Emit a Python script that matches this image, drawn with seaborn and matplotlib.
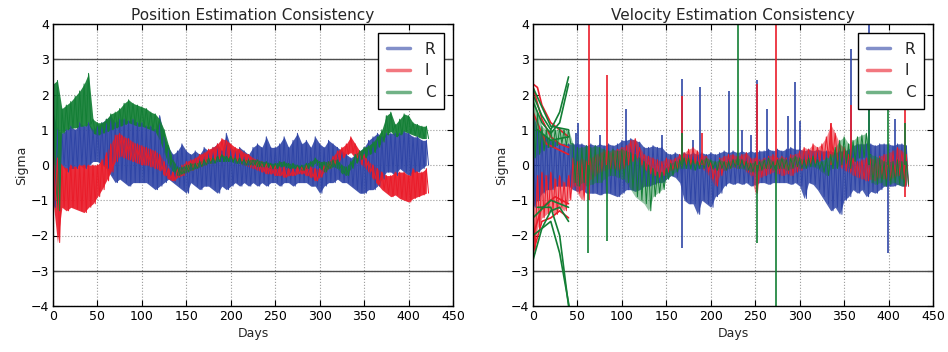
import numpy as np
import pandas as pd
import matplotlib
matplotlib.use("Agg")
import matplotlib.pyplot as plt
from matplotlib.lines import Line2D
import seaborn as sns

# ---------------- data ----------------
days = list(range(0, 421, 5))  # sample days (85)

# Position estimation consistency: upper / lower envelope of each component
pos_R_hi = [1.5, 1.0, 0.9, 1.0, 1.1, 1.0, 1.2, 1.1, 1.2, 1.0,
            1.1, 1.2, 1.3, 1.4, 1.2, 1.3, 1.3, 1.25, 1.3, 1.2,
            1.2, 1.1, 1.1, 1.0, 1.4, 0.8, 0.5, 0.3, 0.4, 0.6,
            0.4, 0.3, 0.4, 0.3, 0.5, 0.4, 0.5, 0.6, 0.4, 0.9,
            0.5, 0.4, 0.5, 0.4, 0.3, 0.5, 0.6, 0.5, 0.8, 0.5,
            0.5, 0.6, 0.8, 0.5, 0.7, 0.9, 0.6, 0.7, 0.5, 0.8,
            0.6, 0.5, 0.7, 0.6, 0.5, 0.4, 0.3, 0.2, 0.3, 0.4,
            0.5, 0.7, 0.8, 0.9, 0.8, 0.9, 0.9, 0.9, 0.9, 0.95,
            0.9, 0.8, 0.8, 0.7, 0.7]
pos_R_lo = [-1.2, -0.6, 0.0, -0.2, -0.1, -0.1, 0.0, -0.1, 0.0, 0.1,
            0.1, 0.0, -0.1, -0.3, -0.5, -0.4, -0.5, -0.6, -0.5, -0.5,
            -0.5, -0.5, -0.6, -0.7, -0.6, -0.5, -0.4, -0.5, -0.6, -0.7,
            -0.8, -0.5, -0.6, -0.7, -0.6, -0.6, -0.7, -0.8, -0.6, -0.7,
            -0.6, -0.5, -0.6, -0.5, -0.6, -0.5, -0.6, -0.5, -0.6, -0.5,
            -0.5, -0.6, -0.5, -0.5, -0.6, -0.5, -0.5, -0.5, -0.6, -0.6,
            -0.8, -0.6, -0.5, -0.5, -0.4, -0.5, -0.5, -0.6, -0.7, -0.8,
            -0.8, -0.7, -0.7, -0.6, -0.4, -0.2, -0.2, -0.3, -0.1, -0.2,
            -0.3, -0.2, -0.2, -0.1, 0.0]
pos_I_hi = [1.0, 0.2, 0.0, -0.1, 0.0, -0.05, 0.0, 0.0, 0.0, 0.0,
            0.0, 0.15, 0.35, 0.6, 0.85, 0.9, 0.8, 0.75, 0.65, 0.6,
            0.55, 0.5, 0.45, 0.4, 0.3, 0.1, -0.1, -0.2, -0.1, 0.0,
            0.1, 0.15, 0.2, 0.3, 0.35, 0.45, 0.5, 0.6, 0.75, 0.7,
            0.6, 0.5, 0.45, 0.35, 0.3, 0.2, 0.15, 0.1, 0.05, 0.0,
            0.0, -0.05, -0.05, -0.1, -0.1, -0.05, -0.05, 0.0, -0.05, -0.1,
            -0.1, 0.0, 0.1, 0.25, 0.4, 0.5, 0.6, 0.8, 0.6, 0.4,
            0.3, 0.1, 0.0, -0.1, -0.2, -0.3, -0.3, -0.2, -0.2, -0.2,
            -0.3, -0.1, -0.2, -0.2, -0.1]
pos_I_lo = [-1.0, -2.2, -1.2, -1.3, -1.2, -1.25, -1.3, -1.35, -1.2, -1.1,
            -0.9, -0.7, -0.45, -0.2, 0.1, 0.25, 0.2, 0.15, 0.1, 0.05,
            0.0, 0.0, -0.05, -0.1, -0.15, -0.3, -0.4, -0.45, -0.35, -0.3,
            -0.2, -0.15, -0.1, -0.05, 0.0, 0.05, 0.1, 0.15, 0.25, 0.2,
            0.15, 0.1, 0.05, 0.0, -0.05, -0.1, -0.15, -0.2, -0.25, -0.25,
            -0.3, -0.3, -0.35, -0.3, -0.3, -0.25, -0.25, -0.3, -0.35, -0.45,
            -0.35, -0.2, -0.1, 0.0, 0.1, 0.2, 0.3, 0.35, 0.2, 0.05,
            -0.05, -0.2, -0.4, -0.55, -0.7, -0.8, -0.9, -0.85, -0.95, -1.0,
            -1.05, -0.95, -0.9, -0.85, -0.8]
pos_C_hi = [2.3, 2.4, 1.6, 1.7, 1.8, 1.95, 2.1, 2.3, 2.6, 1.3,
            1.2, 1.2, 1.3, 1.45, 1.5, 1.6, 1.75, 1.85, 1.75, 1.7,
            1.65, 1.6, 1.5, 1.45, 1.3, 1.0, 0.55, 0.15, -0.05, -0.05,
            0.0, 0.05, 0.05, 0.1, 0.15, 0.2, 0.2, 0.25, 0.3, 0.25,
            0.25, 0.2, 0.2, 0.15, 0.15, 0.15, 0.15, 0.1, 0.1, 0.05,
            0.05, 0.1, 0.1, 0.05, 0.05, 0.0, 0.0, 0.05, 0.1, 0.2,
            0.1, 0.1, 0.1, 0.15, 0.15, 0.0, -0.05, 0.1, 0.3, 0.4,
            0.5, 0.55, 0.65, 0.8, 1.0, 1.4, 1.5, 1.15, 1.3, 1.45,
            1.4, 1.2, 1.15, 1.1, 1.1]
pos_C_lo = [0.0, -1.3, 0.9, 1.0, 1.05, 1.05, 1.1, 1.1, 1.15, 0.9,
            0.85, 0.9, 0.95, 1.0, 1.05, 1.1, 1.15, 1.2, 1.15, 1.1,
            1.1, 1.05, 1.0, 0.95, 0.7, 0.35, 0.0, -0.2, -0.3, -0.25,
            -0.2, -0.15, -0.1, -0.05, 0.0, 0.05, 0.05, 0.1, 0.1, 0.1,
            0.1, 0.05, 0.05, 0.0, 0.0, 0.0, -0.05, -0.05, -0.05, -0.1,
            -0.1, -0.05, -0.05, -0.1, -0.1, -0.1, -0.15, -0.1, -0.05, 0.05,
            -0.1, -0.2, -0.1, -0.05, -0.1, -0.25, -0.3, -0.1, 0.05, 0.15,
            0.2, 0.3, 0.35, 0.5, 0.65, 0.85, 0.95, 0.8, 0.85, 0.95,
            0.9, 0.85, 0.8, 0.75, 0.75]

# Velocity estimation consistency: envelopes
vel_R_hi = [1.5, 1.0, 0.9, 0.8, 0.7, 0.7, 0.6, 0.6, 0.6, 0.6,
            0.6, 0.6, 0.55, 0.6, 0.55, 0.6, 0.55, 0.6, 0.55, 0.6,
            0.7, 0.7, 0.75, 0.7, 0.65, 0.5, 0.5, 0.55, 0.5, 0.5,
            0.35, 0.3, 0.35, 0.3, 0.35, 0.3, 0.35, 0.3, 0.35, 0.3,
            0.35, 0.3, 0.35, 0.4, 0.35, 0.4, 0.35, 0.4, 0.35, 0.4,
            0.35, 0.4, 0.4, 0.45, 0.4, 0.45, 0.4, 0.45, 0.5, 0.45,
            0.45, 0.4, 0.45, 0.4, 0.45, 0.4, 0.4, 0.4, 0.35, 0.4,
            0.4, 0.45, 0.55, 0.6, 0.6, 0.6, 0.6, 0.55, 0.6, 0.6,
            0.6, 0.55, 0.6, 0.6, 0.55]
vel_R_lo = [-1.2, -1.0, -0.8, -0.7, -0.7, -0.6, -0.6, -0.6, -0.6, -0.7,
            -0.75, -0.7, -0.8, -0.8, -0.8, -0.85, -0.8, -0.8, -0.85, -0.9,
            -0.8, -0.7, -0.7, -0.75, -0.7, -0.6, -0.6, -0.55, -0.5, -0.5,
            -0.4, -0.3, -0.35, -0.5, -1.0, -1.1, -1.1, -1.4, -1.0, -1.1,
            -1.2, -0.9, -0.8, -0.6, -0.5, -0.55, -0.5, -0.55, -0.5, -0.6,
            -0.55, -0.5, -0.5, -0.55, -0.5, -0.5, -0.5, -0.5, -0.55, -0.5,
            -0.6, -0.95, -0.5, -0.55, -0.7, -0.9, -1.1, -1.3, -1.2, -1.4,
            -1.0, -0.9, -0.7, -0.8, -0.7, -0.9, -0.75, -0.8, -0.7, -0.6,
            -0.6, -0.6, -0.55, -0.6, -0.6]
vel_I_hi = [-1.0, -0.3, -0.2, -0.3, -0.2, -0.4, -0.3, -0.5, -0.3, 0.2,
            0.1, 0.2, 0.1, 0.2, 0.3, 0.35, 0.4, 0.35, 0.4, 0.45,
            0.5, 0.55, 0.7, 0.75, 0.5, 0.3, 0.25, 0.2, 0.15, 0.1,
            0.2, 0.15, 0.2, 0.3, 0.35, 0.45, 0.5, 0.4, 0.3, 0.25,
            0.1, -0.1, 0.2, 0.25, 0.3, 0.3, 0.25, 0.3, 0.35, 0.2,
            0.2, 0.15, 0.2, 0.25, 0.3, 0.2, 0.25, 0.2, 0.3, 0.3,
            0.4, 0.5, 0.45, 0.6, 0.5, 0.6, 0.8, 1.15, 0.9, 0.6,
            0.5, 0.3, 0.2, 0.1, 0.15, 0.2, 0.2, 0.15, 0.25, 0.3,
            0.35, 0.4, 0.5, 0.4, 0.3]
vel_I_lo = [-2.5, -1.8, -1.5, -1.4, -1.3, -1.4, -1.2, -1.3, -1.0, -0.6,
            -0.8, -1.0, -0.5, -0.4, -0.3, -0.2, -0.15, -0.1, -0.1, -0.15,
            -0.1, 0.0, 0.1, 0.2, 0.0, -0.15, -0.25, -0.3, -0.35, -0.3,
            -0.2, -0.15, -0.1, -0.05, 0.0, 0.0, 0.05, 0.0, -0.1, -0.2,
            -0.4, -0.6, -0.3, -0.15, -0.1, -0.05, -0.1, -0.05, -0.2, -0.3,
            -0.8, -0.35, -0.3, -0.25, -0.2, -0.25, -0.3, -0.25, -0.3, -0.2,
            -0.15, -0.05, 0.0, 0.05, 0.1, 0.15, 0.2, 0.3, 0.1, -0.05,
            -0.15, -0.2, -0.3, -0.35, -0.4, -0.45, -0.4, -0.45, -0.35, -0.4,
            -0.45, -0.35, -0.3, -0.4, -0.6]
vel_C_hi = [2.0, 1.5, 1.1, 1.0, 1.0, 1.0, 1.05, 1.0, 1.0, 0.6,
            0.5, 0.5, 0.55, 0.5, 0.55, 0.5, 0.45, 0.4, 0.45, 0.4,
            0.45, 0.4, 0.35, 0.3, 0.2, 0.1, 0.0, -0.1, -0.2, -0.2,
            -0.1, 0.05, 0.1, 0.15, 0.2, 0.2, 0.15, 0.1, 0.15, 0.2,
            0.15, 0.1, 0.15, 0.1, 0.1, 0.15, 0.2, 0.15, 0.1, 0.05,
            0.1, 0.1, 0.15, 0.2, 0.1, 0.15, 0.2, 0.15, 0.2, 0.25,
            0.2, 0.15, 0.2, 0.25, 0.15, 0.1, 0.2, 0.3, 0.5, 0.7,
            0.8, 0.6, 0.7, 0.8, 0.85, 0.9, 0.3, 0.25, 0.2, 0.1,
            0.1, 0.1, 0.15, 0.1, 0.1]
vel_C_lo = [0.2, 0.3, 0.4, 0.5, 0.5, 0.55, 0.6, 0.55, 0.6, -0.5,
            -0.6, -0.5, -0.6, -0.55, -0.5, -0.5, -0.4, -0.3, -0.3, -0.35,
            -0.4, -0.5, -0.7, -0.9, -1.0, -1.1, -1.3, -0.9, -0.8, -0.7,
            -0.4, -0.3, -0.2, -0.1, -0.1, -0.1, -0.15, -0.1, -0.1, -0.05,
            -0.1, -0.15, -0.1, -0.15, -0.1, -0.05, -0.1, -0.1, -0.15, -0.2,
            -0.2, -0.15, -0.1, -0.1, -0.15, -0.1, -0.1, -0.15, -0.1, -0.05,
            -0.1, -0.1, -0.05, -0.05, -0.1, -0.2, -0.3, -0.1, -0.1, 0.0,
            0.05, -0.1, 0.1, 0.2, 0.2, 0.3, -0.5, -0.55, -0.5, -0.6,
            -0.55, -0.5, -0.55, -0.6, -0.55]

# early divergent velocity traces (day, value)
vel_I_fan_days = [[0, 5, 10, 20, 30, 40], [0, 10, 20, 30, 40], [0, 15, 40],
                  [0, 10, 20, 30, 40], [0, 10, 25, 40]]
vel_I_fan_vals = [[2.3, 2.2, 1.7, 1.2, 1.0, 0.8], [2.2, 1.3, 0.8, 0.6, 0.5],
                  [1.5, 0.6, 0.3], [-2.5, -1.6, -1.5, -1.3, -1.5],
                  [-2.0, -1.2, -0.9, -1.1]]
vel_C_fan_days = [[0, 10, 20, 30, 40], [0, 10, 20, 30, 40], [0, 20, 40],
                  [5, 20, 40], [0, 10, 20, 30, 40], [0, 20, 30, 42],
                  [5, 20, 30, 41], [0, 20, 40]]
vel_C_fan_vals = [[2.0, 1.4, 1.0, 1.5, 2.5], [1.8, 1.2, 0.9, 1.2, 2.3],
                  [2.2, 1.1, 1.0], [1.0, 0.7, 0.8],
                  [-2.7, -1.8, -1.3, -1.2, -1.6], [-2.0, -1.6, -2.5, -4.2],
                  [-1.2, -1.2, -2.0, -4.2], [-1.5, -1.0, -1.2]]

# isolated velocity outliers: day, bottom, top
vel_R_spk_day = [48, 51, 75, 105, 145, 168, 180, 188, 220, 235, 245, 252, 263,
                 287, 295, 300, 358, 378, 399, 407]
vel_R_spk_lo = [0.0, 0.0, 0.0, 0.0, 0.0, -2.35, 0.0, 0.0, 0.0, 0.0, 0.0, 0.0,
                0.0, 0.0, 0.0, 0.0, 0.0, 0.0, -2.5, 0.0]
vel_R_spk_hi = [0.9, 1.2, 0.85, 1.6, 0.85, 2.45, 0.7, 2.2, 2.1, 1.0, 0.85, 2.4,
                1.6, 1.4, 2.35, 1.25, 3.3, 4.5, 0.5, 1.3]
vel_I_spk_day = [63, 83, 168, 190, 252, 273, 335, 358, 419]
vel_I_spk_lo = [-1.0, 0.0, 0.0, 0.0, -0.8, 0.0, 0.0, 0.0, -0.9]
vel_I_spk_hi = [4.5, 2.55, 1.95, 0.9, 2.3, 4.5, 1.2, 1.7, 1.9]
vel_C_spk_day = [62, 83, 168, 231, 252, 273, 378, 399, 419]
vel_C_spk_lo = [-2.5, -2.15, 0.0, 0.0, -2.2, -4.5, 0.0, 0.0, 0.0]
vel_C_spk_hi = [0.0, 0.0, 0.9, 4.5, 0.0, 0.0, 2.0, 2.0, 1.2]

labels = ["R", "I", "C"]
titles = ["Position Estimation Consistency", "Velocity Estimation Consistency"]
xticks = [0, 50, 100, 150, 200, 250, 300, 350, 400, 450]
yticks = [-4, -3, -2, -1, 0, 1, 2, 3, 4]

# ---------------- drawing ----------------
sns.set_theme(style="white")
plt.rcParams["font.family"] = ["DejaVu Sans"]

COL = {"R": "#2f45a6", "I": "#ea1c2a", "C": "#137f35"}

fig = plt.figure(figsize=(9.48, 3.52), dpi=100)
ax1 = fig.add_axes([53 / 948, 46 / 352, 400 / 948, 282 / 352])
ax2 = fig.add_axes([533 / 948, 46 / 352, 400 / 948, 282 / 352])


def band(ax, hi, lo, color, lw, alpha):
    ax.fill_between(days, lo, hi, color=color, alpha=alpha, lw=0)
    xs, ys = [], []
    for d, h, l in zip(days, hi, lo):
        xs += [d, d + 2.5]
        ys += [h, l]
    df = pd.DataFrame({"x": xs, "y": ys})
    sns.lineplot(data=df, x="x", y="y", sort=False, estimator=None, ax=ax,
                 color=color, lw=lw)


def style(ax, title):
    ax.set_xlim(0, 450)
    ax.set_ylim(-4, 4)
    ax.set_xticks(xticks)
    ax.set_yticks(yticks)
    ax.set_yticklabels(["\u22124", "\u22123", "\u22122", "\u22121", "0", "1", "2", "3", "4"])
    ax.grid(True, color="0.6", ls=":", lw=0.8)
    ax.set_axisbelow(True)
    for y in (3, -3):
        ax.axhline(y, color="0.3", lw=1.0, zorder=1.5)
    for s in ax.spines.values():
        s.set_color("black")
        s.set_linewidth(1.0)
    ax.tick_params(direction="in", length=4, width=0.8, top=True, right=True,
                   bottom=True, left=True, labelsize=9, pad=3, colors="black")
    ax.set_title(title, fontsize=11, pad=3)
    ax.set_xlabel("Days", fontsize=9, labelpad=3)
    ax.set_ylabel("Sigma", fontsize=9, labelpad=2)
    handles = [Line2D([], [], color=COL[k], lw=2.5, alpha=0.6) for k in labels]
    leg = ax.legend(handles, labels, loc="upper right", fontsize=11,
                    handlelength=1.5, handletextpad=1.0, labelspacing=0.45,
                    borderpad=0.55, fancybox=False, framealpha=1,
                    borderaxespad=0.6)
    leg.get_frame().set_edgecolor("black")
    leg.get_frame().set_linewidth(1.0)


# position panel
band(ax1, pos_R_hi, pos_R_lo, COL["R"], 0.7, 0.9)
band(ax1, pos_I_hi, pos_I_lo, COL["I"], 0.7, 0.92)
band(ax1, pos_C_hi, pos_C_lo, COL["C"], 0.7, 0.92)
style(ax1, titles[0])

# velocity panel
band(ax2, vel_R_hi, vel_R_lo, COL["R"], 0.7, 0.85)
ax2.vlines(vel_R_spk_day, vel_R_spk_lo, vel_R_spk_hi, color=COL["R"], lw=1.2)
band(ax2, vel_I_hi, vel_I_lo, COL["I"], 0.7, 0.55)
for dd, vv in zip(vel_I_fan_days, vel_I_fan_vals):
    sns.lineplot(x=dd, y=vv, ax=ax2, color=COL["I"], lw=1.2, estimator=None)
ax2.vlines(vel_I_spk_day, vel_I_spk_lo, vel_I_spk_hi, color=COL["I"], lw=1.2)
band(ax2, vel_C_hi, vel_C_lo, COL["C"], 0.7, 0.45)
for dd, vv in zip(vel_C_fan_days, vel_C_fan_vals):
    sns.lineplot(x=dd, y=vv, ax=ax2, color=COL["C"], lw=1.2, estimator=None)
ax2.vlines(vel_C_spk_day, vel_C_spk_lo, vel_C_spk_hi, color=COL["C"], lw=1.2)
style(ax2, titles[1])

fig.savefig("out.png", dpi=100)
